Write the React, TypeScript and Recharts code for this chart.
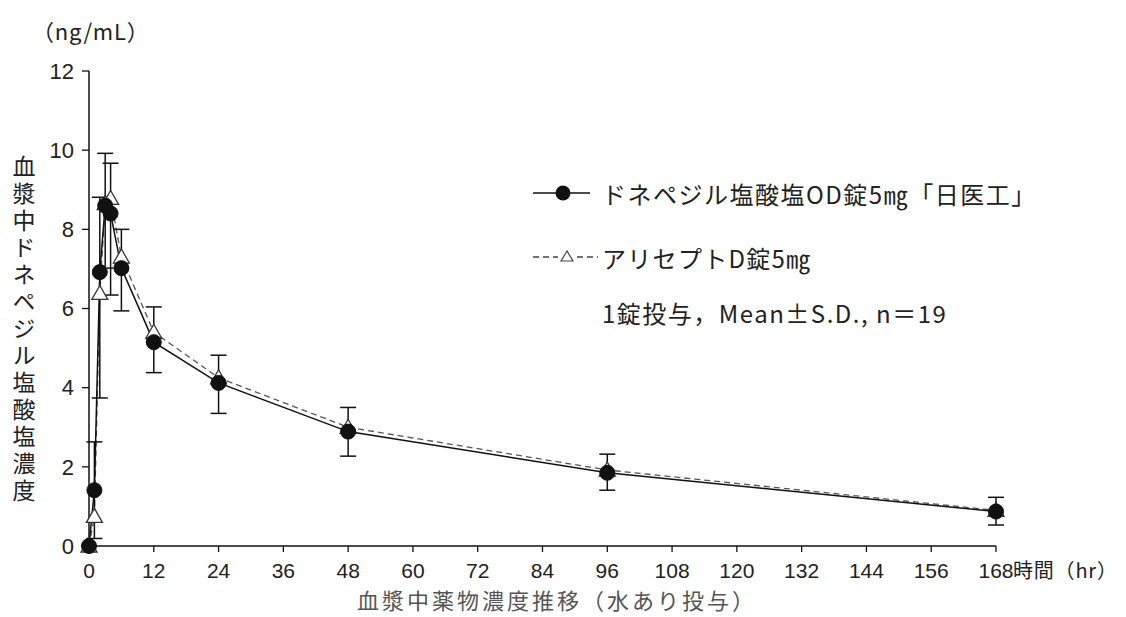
import React from 'react';
import { LineChart, Line, XAxis, YAxis, ErrorBar } from 'recharts';

const times = [0, 1, 2, 3, 4, 6, 12, 24, 48, 96, 168];
const odMean = [0, 1.41, 6.92, 8.6, 8.4, 7.02, 5.15, 4.12, 2.89, 1.85, 0.87];
const odSdLow = [0, 1.22, 3.18, 1.58, 2.06, 1.08, 0.77, 0.77, 0.62, 0.44, 0.34];
const odSdHigh = [0, 1.22, 1.89, 1.32, 1.27, 0.98, 0.89, 0.7, 0.61, 0.47, 0.36];
const ariceptMean = [0, 0.75, 6.38, 8.65, 8.78, 7.3, 5.4, 4.25, 3.0, 1.92, 0.9];
const xTicks = [0, 12, 24, 36, 48, 60, 72, 84, 96, 108, 120, 132, 144, 156, 168];
const yTicks = [0, 2, 4, 6, 8, 10, 12];

const seriesOD = 'ドネペジル塩酸塩OD錠5㎎「日医工」';
const seriesAR = 'アリセプトD錠5㎎';
const noteText = '1錠投与，Mean±S.D., n＝19';
const yTitle = '血漿中ドネペジル塩酸塩濃度';
const xTitle = '血漿中薬物濃度推移（水あり投与）';
const yUnit = '（ng/mL）';
const xUnit = '時間（hr）';

const data = times.map((t, i) => ({
  t,
  od: odMean[i],
  odErr: [odSdLow[i], odSdHigh[i]],
  ar: ariceptMean[i],
}));

const W = 1118;
const H = 609;
const NUM_FONT = '"Liberation Sans", Arial, Helvetica, sans-serif';
const JP_FONT = '"Noto Sans CJK JP", "Noto Sans", sans-serif';

const XTick = (props: any) => {
  const { x, y, payload } = props;
  const v = payload.value;
  return (
    <g>
      <text x={x} y={y} dy="0.71em" textAnchor="middle" fontSize={21} fill="#222" fontFamily={NUM_FONT}>
        {v}
      </text>
      {v === 168 ? (
        <text x={x + 17} y={y} dy="0.76em" textAnchor="start" fontSize={20} fill="#222" fontFamily={JP_FONT} letterSpacing={0.8}>
          {xUnit}
        </text>
      ) : null}
    </g>
  );
};

const Triangle = (props: any) => {
  const { cx, cy, index } = props;
  if (cx == null || cy == null) return <g key={index} />;
  const s = 8;
  return (
    <polygon
      key={index}
      points={`${cx},${cy - s} ${cx - s},${cy + s * 0.75} ${cx + s},${cy + s * 0.75}`}
      fill="#fff"
      stroke="#333"
      strokeWidth={1.3}
    />
  );
};

export default function App() {
  return (
    <div style={{ position: 'relative', width: W, height: H }}>
      <LineChart
        width={W}
        height={H}
        data={data}
        margin={{ top: 63, right: 130, bottom: 31, left: 0 }}
      >
        <XAxis
          type="number"
          dataKey="t"
          domain={[0, 168]}
          ticks={xTicks}
          interval={0}
          tickSize={6}
          tickMargin={11}
          height={40}
          axisLine={{ stroke: '#111', strokeWidth: 1.5 }}
          tickLine={{ stroke: '#111', strokeWidth: 1.3 }}
          tick={<XTick />}
        />
        <YAxis
          type="number"
          domain={[0, 12]}
          ticks={yTicks}
          interval={0}
          width={81}
          tickSize={7}
          tickMargin={8}
          axisLine={{ stroke: '#111', strokeWidth: 1.5 }}
          tickLine={{ stroke: '#111', strokeWidth: 1.3 }}
          tick={{ fontSize: 22, fill: '#222', fontFamily: NUM_FONT }}
        />
        <Line
          type="linear"
          dataKey="ar"
          stroke="#555"
          strokeWidth={1.3}
          strokeDasharray="6 4"
          dot={<Triangle />}
          activeDot={false}
          isAnimationActive={false}
        />
        <Line
          type="linear"
          dataKey="od"
          stroke="#111"
          strokeWidth={1.5}
          dot={{ r: 7.5, fill: '#111', stroke: '#111', strokeWidth: 1 }}
          activeDot={false}
          isAnimationActive={false}
        >
          <ErrorBar dataKey="odErr" direction="y" width={8} stroke="#111" strokeWidth={1.5} />
        </Line>
      </LineChart>
      <svg
        width={W}
        height={H}
        style={{ position: 'absolute', left: 0, top: 0, pointerEvents: 'none' }}
      >
        <text x={24} y={22} dominantBaseline="central" fontSize={22} fill="#222" fontFamily={JP_FONT} letterSpacing={0.8}>
          {yUnit}
        </text>
        <text
          x={16}
          y={147}
          fontSize={23}
          fill="#222"
          fontFamily={JP_FONT}
          letterSpacing={4}
          style={{ writingMode: 'vertical-rl' } as any}
        >
          {yTitle}
        </text>
        <text x={549} y={601} textAnchor="middle" fontSize={22} fill="#555" fontFamily={JP_FONT} letterSpacing={3}>
          {xTitle}
        </text>

        <line x1={525} y1={185} x2={582} y2={185} stroke="#111" strokeWidth={1.5} />
        <circle cx={555} cy={185} r={7.5} fill="#111" />
        <text x={594} y={185} dominantBaseline="central" fontSize={24} fill="#222" fontFamily={JP_FONT} letterSpacing={1.5}>
          {seriesOD}
        </text>

        <line x1={525} y1={249} x2={550} y2={249} stroke="#444" strokeWidth={1.3} strokeDasharray="6 4" />
        <polygon points="559,243 553,253 565,253" fill="#fff" stroke="#444" strokeWidth={1.2} />
        <line x1={569} y1={249} x2={590} y2={249} stroke="#444" strokeWidth={1.3} strokeDasharray="6 4" />
        <text x={594} y={249} dominantBaseline="central" fontSize={24} fill="#222" fontFamily={JP_FONT} letterSpacing={1.3}>
          {seriesAR}
        </text>

        <text x={594} y={304} dominantBaseline="central" fontSize={24} fill="#222" fontFamily={JP_FONT} letterSpacing={1.5}>
          {noteText}
        </text>
      </svg>
    </div>
  );
}
